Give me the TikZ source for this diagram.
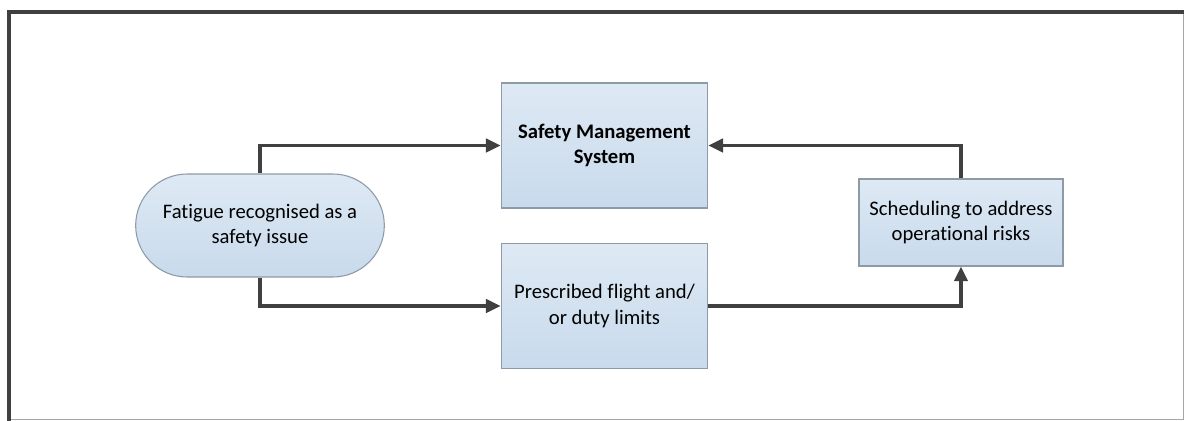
\documentclass[tikz,border=0pt]{standalone}
\usepackage{fontspec}
\setmainfont{Carlito}[Ligatures=NoCommon]
\usetikzlibrary{positioning}
\usetikzlibrary{arrows.meta}
\usetikzlibrary{shapes.misc}
\definecolor{boxtop}{HTML}{DEE9F4}
\definecolor{boxbot}{HTML}{C8DAEC}
\definecolor{boxline}{HTML}{8E9AA6}
\definecolor{flowline}{HTML}{404040}
\tikzset{
every box/.style=
    { % Sets the properties for each box
        draw=boxline,
        line width=0.8pt,
        top color=boxtop,
        bottom color=boxbot,
        align=center,
        font=\fontsize{15.5}{19}\selectfont,
        inner sep=2pt
    },
    procbox/.style={every box,rectangle,minimum width=155pt,minimum height=93.75pt},
    startbox/.style={every box,rounded rectangle,minimum width=190.5pt,minimum height=77.25pt},
    flow/.style={ % Sets the properties for each connector
        draw=flowline,
        line width=2.5pt,
        -{Triangle[length=11pt,width=10pt]}
    }
}
\begin{document}
\begin{tikzpicture}[x=0.75pt,y=-0.75pt]
\useasboundingbox (0,0) rectangle (1186,421);
% frame
\draw[gray!70,line width=0.8pt] (1183.5,12) -- (1183.5,419.5) -- (9,419.5);
\draw[black!75,line width=3pt] (9,421) -- (9,12) -- (1184,12);

\node [startbox]                                    (fatigue) at (260,225.5) {Fatigue recognised as a\\safety issue};
\node [procbox,font=\fontsize{15.5}{19}\selectfont\bfseries] (sms) at (604.5,145.5) {Safety Management\\System};
\node [procbox]                                     (limits)  at (604.5,306) {Prescribed flight and/\\or duty limits};
\node [procbox,minimum width=153pt,minimum height=65.25pt] (sched) at (961,222.5) {Scheduling to address\\operational risks};

\draw[flow] (fatigue.north) |- (sms.west);
\draw[flow] (fatigue.south) |- (limits.west);
\draw[flow] (limits.east) -| (sched.south);
\draw[flow] (sched.north) |- (sms.east);
\end{tikzpicture}
\end{document}
